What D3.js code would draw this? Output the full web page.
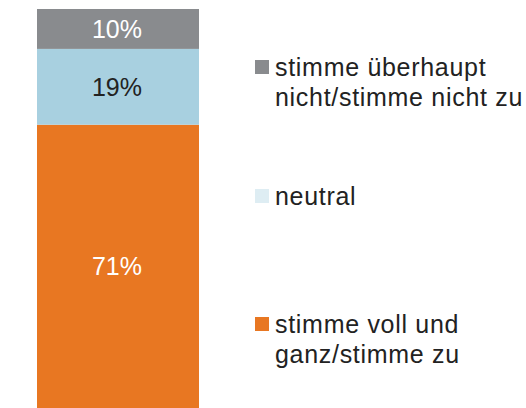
<!DOCTYPE html>
<html>
<head>
<meta charset="utf-8">
<script src="https://cdn.jsdelivr.net/npm/d3@7"></script>
<style>
  body { margin: 0; background: #fff; }
  svg text { font-family: "Liberation Sans", Arial, sans-serif; }
</style>
</head>
<body>
<div id="chart"></div>
<script>
// stacked from bottom to top
const categories = ["stimme voll und ganz/stimme zu", "neutral", "stimme überhaupt nicht/stimme nicht zu"];
const values = [71, 19, 10];
const barColors = ["#e87722", "#a8d0e0", "#898b8e"];
const legendColors = ["#e87722", "#deedf3", "#898b8e"];
const labelColors = ["#ffffff", "#222222", "#ffffff"];
// legend lines, top to bottom
const legendLines = [
    ["stimme überhaupt", "nicht/stimme nicht zu"],
    ["neutral"],
    ["stimme voll und", "ganz/stimme zu"]
];

const width = 526, height = 408;

const svg = d3.select("#chart").append("svg")
    .attr("width", width)
    .attr("height", height);

// vertical scale of the single stacked bar
const y = d3.scaleLinear()
    .domain([0, 100])
    .range([408, 9]);

const x = d3.scaleBand()
    .domain(["all"])
    .range([37, 199]);

let cum = 0;
const stacked = values.map((v, i) => {
    const d = {y0: cum, y1: cum + v, value: v, i: i};
    cum += v;
    return d;
});

svg.selectAll("rect.seg")
    .data(stacked)
    .enter()
    .append("rect")
    .attr("class", "seg")
    .attr("x", x("all"))
    .attr("width", x.bandwidth())
    .attr("y", d => y(d.y1))
    .attr("height", d => y(d.y0) - y(d.y1))
    .style("fill", d => barColors[d.i]);

svg.selectAll("text.lbl")
    .data(stacked)
    .enter()
    .append("text")
    .attr("class", "lbl")
    .attr("x", x("all") + x.bandwidth() / 2 - 1)
    .attr("y", d => (y(d.y0) + y(d.y1)) / 2 + 9)
    .attr("text-anchor", "middle")
    .style("font-size", "25px")
    .style("fill", d => labelColors[d.i])
    .text(d => d.value + "%");

// legend, top to bottom (reverse of stack order)
const legendTop = [76, 205, 333];
const legend = svg.selectAll("g.leg")
    .data(legendLines)
    .enter()
    .append("g")
    .attr("class", "leg")
    .attr("transform", (d, i) => `translate(255,${legendTop[i]})`);

legend.append("rect")
    .attr("x", 0)
    .attr("y", -16)
    .attr("width", 14)
    .attr("height", 14)
    .style("fill", (d, i) => legendColors[legendColors.length - 1 - i]);

legend.each(function(lines) {
    const t = d3.select(this).append("text")
        .attr("x", 20)
        .attr("y", 0)
        .style("font-size", "25px")
        .style("letter-spacing", "0.7px")
        .style("fill", "#222");
    lines.forEach((line, j) => {
        t.append("tspan")
            .attr("x", 20)
            .attr("dy", j === 0 ? 0 : 30)
            .text(line);
    });
});
</script>
</body>
</html>
